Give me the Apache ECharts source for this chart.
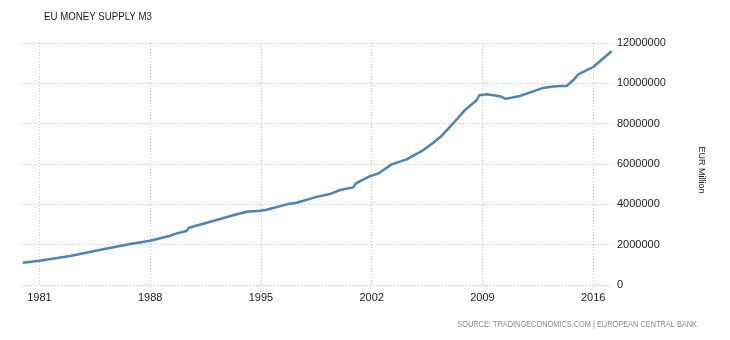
<!DOCTYPE html>
<html>
<head>
<meta charset="utf-8">
<script src="https://cdn.jsdelivr.net/npm/echarts@6/dist/echarts.min.js"></script>
<style>
  html, body { margin: 0; padding: 0; background: #fff; }
  #chart { width: 730px; height: 340px; }
</style>
</head>
<body>
<div id="chart"></div>
<script>
// Euro area money supply M3, EUR million, sampled along the series (decimal years)
const years = [
  1979.95, 1981.0, 1982.94, 1985.04, 1986.73, 1988.0, 1989.26, 1989.68, 1990.3, 1990.45,
  1992.42, 1993.3, 1994.1, 1994.94, 1995.3, 1996.63, 1997.26, 1998.52, 1999.36, 2000.0,
  2000.84, 2001.0, 2001.9, 2002.42, 2003.26, 2004.21, 2005.26, 2005.89, 2006.4, 2007.15,
  2007.89, 2008.63, 2008.8, 2009.26, 2009.8, 2010.21, 2010.31, 2010.46, 2011.37, 2011.79,
  2012.7, 2013.3, 2013.89, 2014.32, 2014.73, 2015.05, 2016.0, 2017.16
];
const m3 = [
  1100000, 1200000, 1440000, 1770000, 2030000, 2190000, 2440000, 2560000, 2680000, 2840000,
  3270000, 3470000, 3630000, 3680000, 3720000, 4000000, 4080000, 4370000, 4510000, 4710000,
  4840000, 5040000, 5400000, 5530000, 5980000, 6230000, 6690000, 7050000, 7380000, 8010000,
  8670000, 9160000, 9410000, 9460000, 9400000, 9330000, 9400000, 9230000, 9370000, 9490000,
  9740000, 9830000, 9870000, 9870000, 10150000, 10440000, 10810000, 11590000
];
const yearTicks = [1981, 1988, 1995, 2002, 2009, 2016];
const valueTicks = [0, 2000000, 4000000, 6000000, 8000000, 10000000, 12000000];

const chart = echarts.init(document.getElementById('chart'), null, { renderer: 'canvas' });

const gridLine = { show: true, lineStyle: { color: '#cccccc', type: [1, 2], width: 1 } };
const textColor = '#1a1a1a';

chart.setOption({
  animation: false,
  backgroundColor: '#ffffff',
  graphic: [
    {
      // chart title
      type: 'text',
      x: 44,
      y: 17,
      scaleX: 0.88,
      style: {
        text: 'EU MONEY SUPPLY M3',
        font: '11px "Liberation Sans", sans-serif',
        fill: textColor,
        align: 'left',
        verticalAlign: 'middle'
      }
    },
    {
      // unit label beside the value axis
      type: 'text',
      x: 701,
      y: 170,
      rotation: -Math.PI / 2,
      style: {
        text: 'EUR Million',
        font: '9px "Liberation Sans", sans-serif',
        fill: textColor,
        align: 'center',
        verticalAlign: 'middle'
      }
    },
    {
      // source note
      type: 'text',
      x: 697,
      y: 325,
      scaleX: 0.82,
      style: {
        text: 'SOURCE: TRADINGECONOMICS.COM | EUROPEAN CENTRAL BANK',
        font: '9px "Liberation Sans", sans-serif',
        fill: '#8a8a8a',
        align: 'right',
        verticalAlign: 'middle'
      }
    }
  ],
  grid: { left: 22, right: 117, top: 43, bottom: 55, containLabel: false },
  xAxis: {
    type: 'value',
    min: 1979.9,
    max: 2017.25,
    axisLine: { show: false },
    axisTick: { show: false, customValues: yearTicks },
    splitLine: gridLine,
    axisLabel: {
      customValues: yearTicks,
      margin: 7,
      fontFamily: 'Liberation Sans',
      fontSize: 11,
      color: textColor,
      formatter: v => String(Math.round(v))
    }
  },
  yAxis: {
    type: 'value',
    position: 'right',
    min: valueTicks[0],
    max: valueTicks[valueTicks.length - 1],
    interval: 2000000,
    axisLine: { show: false },
    axisTick: { show: false },
    splitLine: gridLine,
    axisLabel: {
      margin: 4,
      fontFamily: 'Liberation Sans',
      fontSize: 11,
      color: textColor,
      formatter: v => String(v)
    }
  },
  series: [{
    type: 'line',
    data: years.map((y, i) => [y, m3[i]]),
    showSymbol: false,
    symbol: 'none',
    lineStyle: { color: '#4a84ba', width: 2.5 },
    itemStyle: { color: '#4a84ba' }
  }]
});
</script>
</body>
</html>
